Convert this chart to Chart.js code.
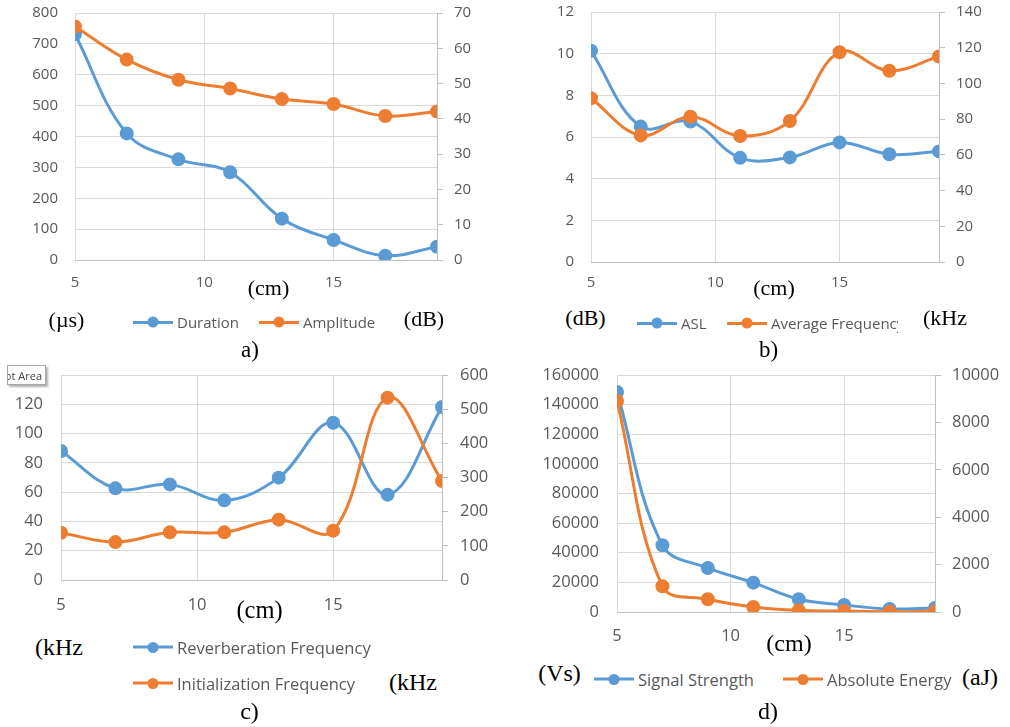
<!DOCTYPE html>
<html>
<head>
<meta charset="utf-8">
<script src="https://cdn.jsdelivr.net/npm/chart.js@4/dist/chart.umd.min.js"></script>
<style>
  body { margin: 0; background: #fff; }
  #page { position: relative; width: 1010px; height: 727px; overflow: hidden; }
  .box { position: absolute; }
  .unit { position: absolute; transform: translate(-50%, -50%); font-family: "Liberation Serif", serif; color: #000; white-space: nowrap; }
  .leg { position: absolute; transform: translateY(-50%); font-family: "Open Sans", sans-serif; color: #595959; white-space: nowrap; display: flex; align-items: center; }
  .mark { position: relative; width: 40px; height: 3px; margin-right: 4px; }
  .mark i { position: absolute; left: 50%; top: 50%; width: 11px; height: 11px; border-radius: 50%; transform: translate(-50%, -50%); }
  #tip { position: absolute; left: 7px; top: 365px; width: 37px; height: 18px; border: 1px solid #a6a6a6; background: #fff;
         box-shadow: 2px 2px 2px #b0b0b0; overflow: hidden; display: flex; justify-content: flex-end; align-items: center;
         font-family: "Open Sans", sans-serif; font-size: 11px; color: #404040; white-space: nowrap; }
  #tip span { padding-right: 3px; }
</style>
</head>
<body>
<div id="page">
  <div class="box" style="left:0;top:0"><canvas id="chartA" width="500" height="300"></canvas></div>
  <div class="box" style="left:500px;top:0"><canvas id="chartB" width="510" height="300"></canvas></div>
  <div class="box" style="left:0;top:360px"><canvas id="chartC" width="500" height="270"></canvas></div>
  <div class="box" style="left:500px;top:360px"><canvas id="chartD" width="510" height="290"></canvas></div>
  <div id="tip"><span>Plot Area</span></div>
</div>
<script>
// distance (cm) for every measuring point, shared by all panels
const distances = [5, 7, 9, 11, 13, 15, 17, 19];

// a)
const duration = [731, 410, 326, 284, 134, 65, 14, 43];
const amplitude = [66.2, 56.8, 51.1, 48.6, 45.6, 44.2, 40.8, 42.1];
// b)
const asl = [10.14, 6.5, 6.74, 5.0, 5.02, 5.74, 5.17, 5.31];
const avgFrequency = [91.7, 70.9, 81.4, 70.6, 79.0, 117.5, 107.1, 115.1];
// c)
const reverbFrequency = [88.1, 62.6, 65.3, 54.4, 69.9, 107.4, 58.3, 118.1];
const initFrequency = [138.5, 111, 139.5, 139.5, 176.6, 144.4, 533.7, 289.8];
// d)
const signalStrength = [148500, 45070, 29750, 19830, 8560, 4730, 2030, 2700];
const absoluteEnergy = [8900, 1084, 535, 211, 70, 42, 14, 28];

const seriesNames = {
  a: ['Duration', 'Amplitude'],
  b: ['ASL', 'Average Frequency'],
  c: ['Reverberation Frequency', 'Initialization Frequency'],
  d: ['Signal Strength', 'Absolute Energy']
};

const BLUE = '#5b9bd5';
const ORANGE = '#ed7d31';
const TICK = '#595959';
const GRID = '#d9d9d9';
const AXIS = '#bfbfbf';

function pts(values) {
  return distances.map((d, i) => ({ x: d, y: values[i] }));
}

function plain(v) { return String(v); }

function lineChart(id, o) {
  const font = { family: 'Open Sans', size: o.fs };
  new Chart(document.getElementById(id), {
    type: 'line',
    data: {
      datasets: [
        { label: o.names[0], data: pts(o.left), yAxisID: 'y', borderColor: BLUE, backgroundColor: BLUE,
          borderWidth: 3, pointRadius: 5.5, tension: 0.38, order: 2 },
        { label: o.names[1], data: pts(o.right), yAxisID: 'y1', borderColor: ORANGE, backgroundColor: ORANGE,
          borderWidth: 3, pointRadius: 5.5, tension: 0.38, order: 1 }
      ]
    },
    options: {
      responsive: false,
      animation: false,
      layout: { padding: { top: o.top, left: 0, right: 0, bottom: 0 } },
      plugins: { legend: { display: false }, tooltip: { enabled: false } },
      scales: {
        x: {
          type: 'linear', min: 5, max: 19,
          ticks: { stepSize: 5, includeBounds: false, padding: o.xPad, color: TICK, font: font, callback: plain },
          grid: { color: GRID, drawTicks: false },
          border: { color: AXIS },
          afterFit: s => { s.height = o.xH; s.paddingLeft = 0; s.paddingRight = 0; }
        },
        y: {
          position: 'left', min: 0, max: o.leftMax,
          ticks: { stepSize: o.leftStep, padding: o.lPad, color: TICK, font: font, callback: plain },
          grid: { color: GRID, drawTicks: false },
          border: { display: false },
          afterFit: s => { s.width = o.lW; s.paddingTop = 0; s.paddingBottom = 0; }
        },
        y1: {
          position: 'right', min: 0, max: o.rightMax,
          ticks: { stepSize: o.rightStep, padding: o.rPad, color: TICK, font: font, callback: plain },
          grid: { drawOnChartArea: false, color: AXIS, tickLength: 6 },
          border: { color: AXIS },
          afterFit: s => { s.width = o.rW; s.paddingTop = 0; s.paddingBottom = 0; }
        }
      }
    }
  });
}

lineChart('chartA', { names: seriesNames.a, left: duration, right: amplitude, fs: 15,
  leftMax: 800, leftStep: 100, rightMax: 70, rightStep: 10,
  top: 13, lW: 75, rW: 63, xH: 40, xPad: 14, lPad: 17, rPad: 11 });

lineChart('chartB', { names: seriesNames.b, left: asl, right: avgFrequency, fs: 15,
  leftMax: 12, leftStep: 2, rightMax: 140, rightStep: 20,
  top: 12, lW: 91, rW: 71, xH: 38, xPad: 12, lPad: 17, rPad: 11 });

lineChart('chartC', { names: seriesNames.c, left: reverbFrequency, right: initFrequency, fs: 16.5,
  leftMax: 140, leftStep: 20, rightMax: 600, rightStep: 100,
  top: 15, lW: 61, rW: 58, xH: 50, xPad: 15, lPad: 18, rPad: 12 });

lineChart('chartD', { names: seriesNames.d, left: signalStrength, right: absoluteEnergy, fs: 16.5,
  leftMax: 160000, leftStep: 20000, rightMax: 10000, rightStep: 2000,
  top: 15, lW: 117, rW: 75, xH: 38, xPad: 14, lPad: 18, rPad: 11 });

// unit labels, axis titles and panel captions
const page = document.getElementById('page');
function text(str, cx, cy, size) {
  const el = document.createElement('div');
  el.className = 'unit';
  el.style.left = cx + 'px';
  el.style.top = cy + 'px';
  el.style.fontSize = size + 'px';
  el.textContent = str;
  page.appendChild(el);
}
function legendItem(name, color, x, y, size, maxW) {
  const el = document.createElement('div');
  el.className = 'leg';
  el.style.left = x + 'px';
  el.style.top = y + 'px';
  el.style.fontSize = size + 'px';
  const m = document.createElement('span');
  m.className = 'mark';
  m.style.background = color;
  const dot = document.createElement('i');
  dot.style.background = color;
  m.appendChild(dot);
  const t = document.createElement('span');
  t.textContent = name;
  if (maxW) { t.style.display = 'inline-block'; t.style.width = maxW + 'px'; t.style.overflow = 'hidden'; }
  el.appendChild(m);
  el.appendChild(t);
  page.appendChild(el);
}

text('(cm)', 268.5, 288, 22);
text('(\u00b5s)', 66.5, 320, 22);
text('(dB)', 424, 319, 22);
text('a)', 250, 350, 23);
legendItem(seriesNames.a[0], BLUE, 133, 322, 15);
legendItem(seriesNames.a[1], ORANGE, 259, 322, 15);

text('(cm)', 774, 288, 22);
text('(dB)', 585.5, 318, 22);
text('(kHz', 945, 318, 22);
text('b)', 768.5, 350, 23);
legendItem(seriesNames.b[0], BLUE, 637, 323, 15);
legendItem(seriesNames.b[1], ORANGE, 727, 323, 15, 127);

text('(cm)', 259.5, 610, 24.5);
text('(kHz', 59, 647, 24);
text('(kHz', 413, 682, 24);
text('c)', 249.5, 711, 24);
legendItem(seriesNames.c[0], BLUE, 133, 647, 16.5);
legendItem(seriesNames.c[1], ORANGE, 133, 683, 16.5);

text('(cm)', 789, 643, 24);
text('(Vs)', 559.5, 673, 24);
text('(aJ)', 980, 677, 24);
text('d)', 768, 711, 24);
legendItem(seriesNames.d[0], BLUE, 594, 679, 16.5);
legendItem(seriesNames.d[1], ORANGE, 783, 679, 16.5);
</script>
</body>
</html>
